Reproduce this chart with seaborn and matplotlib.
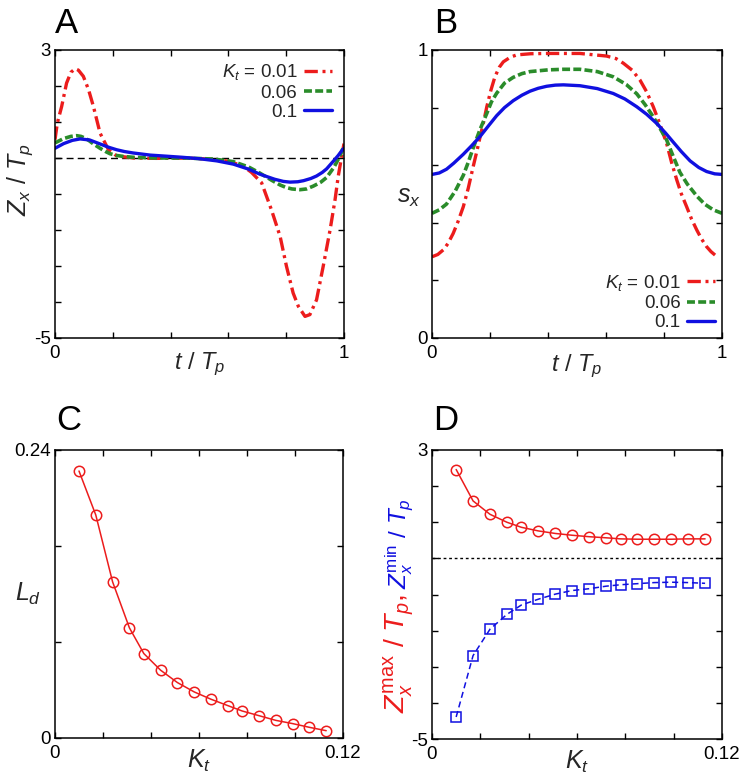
import matplotlib
matplotlib.use("Agg")
import matplotlib.pyplot as plt
import seaborn as sns

# ---------------- Panel A: Z_x / T_p vs t / T_p ----------------
a_labels = [r"$K_t$ = 0.01", "0.06", "0.1"]
a_red_t = [0, 0.008, 0.023, 0.04, 0.055, 0.07, 0.081, 0.098, 0.116, 0.133, 0.156, 0.185,
           0.213, 0.27, 0.35, 0.46, 0.55, 0.60, 0.65, 0.68, 0.715, 0.749, 0.779, 0.801,
           0.824, 0.842, 0.865, 0.882, 0.905, 0.928, 0.952, 0.969, 0.98, 0.992, 1.0]
a_red_v = [0.51, 0.97, 1.43, 2.08, 2.38, 2.48, 2.44, 2.27, 1.90, 1.43, 0.69, 0.23,
           0.06, 0.0, -0.01, 0.0, -0.04, -0.09, -0.22, -0.40, -0.69, -1.44, -2.18, -3.01,
           -3.75, -4.12, -4.40, -4.35, -3.94, -3.01, -1.99, -1.16, -0.51, 0.05, 0.40]
a_green_t = [0, 0.03, 0.055, 0.075, 0.09, 0.105, 0.12, 0.133, 0.156, 0.175, 0.19, 0.213,
             0.24, 0.27, 0.35, 0.45, 0.55, 0.617, 0.67, 0.709, 0.75, 0.779, 0.80, 0.82,
             0.848, 0.87, 0.894, 0.92, 0.94, 0.965, 0.986, 1.0]
a_green_v = [0.42, 0.54, 0.60, 0.62, 0.60, 0.55, 0.47, 0.39, 0.27, 0.18, 0.12, 0.07,
             0.04, 0.02, 0.0, 0.0, -0.03, -0.10, -0.25, -0.42, -0.62, -0.75, -0.82, -0.86,
             -0.88, -0.86, -0.78, -0.67, -0.54, -0.26, 0.05, 0.35]
a_blue_t = [0, 0.03, 0.06, 0.087, 0.12, 0.156, 0.185, 0.213, 0.24, 0.27, 0.33, 0.386,
            0.44, 0.5, 0.56, 0.617, 0.67, 0.709, 0.76, 0.79, 0.813, 0.84, 0.86, 0.885,
            0.905, 0.925, 0.94, 0.963, 0.98, 0.992, 1.0]
a_blue_v = [0.27, 0.40, 0.49, 0.53, 0.50, 0.39, 0.30, 0.23, 0.18, 0.14, 0.08, 0.05,
            0.02, -0.02, -0.08, -0.17, -0.31, -0.45, -0.59, -0.65, -0.67, -0.66, -0.63, -0.57,
            -0.50, -0.40, -0.30, -0.09, 0.07, 0.20, 0.27]

# ---------------- Panel B: s_x vs t / T_p ----------------
b_red_t = [0, 0.02, 0.039, 0.055, 0.073, 0.09, 0.108, 0.125, 0.142, 0.155, 0.166, 0.178,
           0.189, 0.203, 0.217, 0.232, 0.246, 0.27, 0.292, 0.34, 0.395, 0.51, 0.602, 0.635,
           0.66, 0.69, 0.717, 0.74, 0.763, 0.786, 0.809, 0.826, 0.844, 0.86, 0.878, 0.895,
           0.913, 0.93, 0.947, 0.962, 0.976]
b_red_v = [0.282, 0.29, 0.306, 0.328, 0.363, 0.405, 0.456, 0.52, 0.595, 0.65, 0.699, 0.75,
           0.803, 0.86, 0.907, 0.94, 0.959, 0.975, 0.983, 0.987, 0.988, 0.988, 0.979, 0.97,
           0.954, 0.93, 0.896, 0.855, 0.803, 0.742, 0.676, 0.61, 0.549, 0.50, 0.456, 0.413,
           0.375, 0.343, 0.317, 0.30, 0.288]
b_green_t = [0, 0.025, 0.05, 0.08, 0.108, 0.125, 0.142, 0.166, 0.189, 0.205, 0.223, 0.25,
             0.28, 0.31, 0.338, 0.4, 0.453, 0.51, 0.57, 0.625, 0.67, 0.706, 0.735, 0.763,
             0.785, 0.809, 0.832, 0.855, 0.88, 0.913, 0.94, 0.97, 1.0]
b_green_v = [0.433, 0.445, 0.465, 0.51, 0.565, 0.61, 0.66, 0.725, 0.78, 0.82, 0.85, 0.885,
             0.905, 0.918, 0.925, 0.931, 0.933, 0.933, 0.925, 0.907, 0.88, 0.848, 0.81, 0.768,
             0.73, 0.688, 0.63, 0.575, 0.535, 0.493, 0.465, 0.445, 0.433]
b_blue_t = [0, 0.025, 0.05, 0.075, 0.108, 0.137, 0.166, 0.195, 0.223, 0.25, 0.28, 0.31,
            0.338, 0.366, 0.395, 0.425, 0.453, 0.51, 0.57, 0.625, 0.665, 0.706, 0.74, 0.775,
            0.805, 0.832, 0.86, 0.89, 0.92, 0.947, 0.975, 1.0]
b_blue_v = [0.568, 0.573, 0.586, 0.607, 0.638, 0.668, 0.700, 0.737, 0.772, 0.800, 0.824, 0.843,
            0.857, 0.867, 0.874, 0.878, 0.879, 0.876, 0.866, 0.849, 0.830, 0.803, 0.777, 0.745,
            0.712, 0.680, 0.647, 0.615, 0.592, 0.578, 0.570, 0.568]

# ---------------- Panels C, D: vs K_t ----------------
kt = [0.010, 0.017, 0.024, 0.031, 0.037, 0.044, 0.051, 0.058, 0.065, 0.072, 0.078, 0.085,
      0.092, 0.099, 0.106, 0.113]
ld = [0.2225, 0.1858, 0.1301, 0.0918, 0.0704, 0.0565, 0.0462, 0.0384, 0.0323, 0.0270,
      0.0225, 0.0186, 0.0147, 0.0120, 0.0089, 0.0061]
zmax = [2.46, 1.59, 1.22, 1.00, 0.86, 0.76, 0.69, 0.64, 0.60, 0.57, 0.54, 0.53, 0.53, 0.53,
        0.54, 0.54]
zmin = [-4.39, -2.69, -1.96, -1.55, -1.29, -1.13, -0.99, -0.89, -0.84, -0.77, -0.73, -0.70,
        -0.67, -0.66, -0.67, -0.69]

RED = "#ec1c1c"
GREEN = "#2a8c2a"
BLUE = "#1010e0"

sns.set_theme(style="ticks")
plt.rcParams.update({
    "font.family": ["Liberation Sans", "DejaVu Sans"],
    "mathtext.fontset": "custom",
    "mathtext.rm": "Liberation Sans",
    "mathtext.it": "Liberation Sans:italic",
    "mathtext.bf": "Liberation Sans:bold",
    "axes.unicode_minus": False,
    "axes.linewidth": 1.1,
    "axes.edgecolor": "black",
    "xtick.direction": "in",
    "ytick.direction": "in",
    "xtick.top": True,
    "ytick.right": True,
    "xtick.major.size": 4,
    "ytick.major.size": 4,
    "xtick.major.width": 1.0,
    "ytick.major.width": 1.0,
    "xtick.labelsize": 13.5,
    "ytick.labelsize": 13.5,
    "xtick.major.pad": 5,
    "ytick.major.pad": 3,
    "xtick.color": "black",
    "ytick.color": "black",
})

W, H = 750, 781
fig = plt.figure(figsize=(W / 100, H / 100), dpi=100)


def box(l, r, t, b):
    return [l / W, 1 - b / H, (r - l) / W, (b - t) / H]


axA = fig.add_axes(box(55, 344, 50, 338))
axB = fig.add_axes(box(432, 722, 50, 338))
axC = fig.add_axes(box(55, 343, 450, 738))
axD = fig.add_axes(box(432, 722, 450, 739))


def ticks(ax, xt, xl, yt, yl, xlim, ylim):
    ax.set_xlim(*xlim)
    ax.set_ylim(*ylim)
    ax.set_xticks(xt)
    ax.set_xticklabels(xl)
    ax.set_yticks(yt)
    ax.set_yticklabels(yl)
    ax.tick_params(which="both", top=True, right=True, direction="in")


def edge_labels(vals, first, last):
    return [first] + [""] * (len(vals) - 2) + [last]


RED_DD = (0, (4, 1.4, 0.9, 1.4))
GREEN_D = (0, (2.2, 0.9))

# ---- Panel A ----
axA.axhline(0, color="black", lw=1.0, ls=(0, (5, 3)), zorder=1)
sns.lineplot(x=a_red_t, y=a_red_v, ax=axA, color=RED, lw=2.4, linestyle=RED_DD,
             label=a_labels[0], sort=False, estimator=None)
sns.lineplot(x=a_green_t, y=a_green_v, ax=axA, color=GREEN, lw=2.6, linestyle=GREEN_D,
             label=a_labels[1], sort=False, estimator=None)
sns.lineplot(x=a_blue_t, y=a_blue_v, ax=axA, color=BLUE, lw=2.4, linestyle="-",
             label=a_labels[2], sort=False, estimator=None)
xt01 = [0, 0.2, 0.4, 0.6, 0.8, 1.0]
ticks(axA, xt01, edge_labels(xt01, "0", "1"), list(range(-5, 4)),
      edge_labels(range(-5, 4), "-5", "3"), (0, 1), (-5, 3))
axA.legend(loc="upper right", frameon=False, markerfirst=False, fontsize=13.5,
           handlelength=1.5, handletextpad=0.35, labelspacing=0.12, borderpad=0.2,
           borderaxespad=0.45)
axA.set_xlabel(r"$t\ /\ T_p$", fontsize=17)
axA.xaxis.set_label_coords(0.5, -0.045)
axA.set_ylabel(r"$Z_x\ /\ T_p$", fontsize=18)
axA.yaxis.set_label_coords(-0.07, 0.55)

# ---- Panel B ----
sns.lineplot(x=b_red_t, y=b_red_v, ax=axB, color=RED, lw=2.4, linestyle=RED_DD,
             label=a_labels[0], sort=False, estimator=None)
sns.lineplot(x=b_green_t, y=b_green_v, ax=axB, color=GREEN, lw=2.6, linestyle=GREEN_D,
             label=a_labels[1], sort=False, estimator=None)
sns.lineplot(x=b_blue_t, y=b_blue_v, ax=axB, color=BLUE, lw=2.4, linestyle="-",
             label=a_labels[2], sort=False, estimator=None)
ticks(axB, xt01, edge_labels(xt01, "0", "1"), xt01, edge_labels(xt01, "0", "1"),
      (0, 1), (0, 1))
axB.legend(loc="lower right", frameon=False, markerfirst=False, fontsize=13.5,
           handlelength=1.5, handletextpad=0.35, labelspacing=0.12, borderpad=0.2,
           borderaxespad=0.15)
axB.set_xlabel(r"$t\ /\ T_p$", fontsize=17)
axB.xaxis.set_label_coords(0.5, -0.05)
axB.set_ylabel(r"$s_x$", fontsize=18, rotation=0, ha="center", va="center")
axB.yaxis.set_label_coords(-0.08, 0.49)

# ---- Panel C ----
sns.lineplot(x=kt, y=ld, ax=axC, color=RED, lw=1.1, marker="o", markersize=7.5,
             markerfacecolor="none", markeredgecolor=RED, markeredgewidth=1.1,
             estimator=None)
xtK = [0, 0.02, 0.04, 0.06, 0.08, 0.10, 0.12]
ytC = [0, 0.08, 0.16, 0.24]
ticks(axC, xtK, edge_labels(xtK, "0", "0.12"), ytC, edge_labels(ytC, "0", "0.24"),
      (0, 0.12), (0, 0.24))
axC.set_xlabel(r"$K_t$", fontsize=18)
axC.xaxis.set_label_coords(0.5, -0.035)
axC.set_ylabel(r"$L_d$", fontsize=18, rotation=0, ha="center", va="center")
axC.yaxis.set_label_coords(-0.095, 0.5)

# ---- Panel D ----
axD.axhline(0, color="black", lw=1.0, ls=(0, (2, 2)), zorder=1)
sns.lineplot(x=kt, y=zmax, ax=axD, color=RED, lw=1.1, marker="o", markersize=7.5,
             markerfacecolor="none", markeredgecolor=RED, markeredgewidth=1.1,
             estimator=None)
sns.lineplot(x=kt, y=zmin, ax=axD, color=BLUE, lw=1.1, linestyle=(0, (4, 2.5)),
             marker="s", markersize=7.5, markerfacecolor="none", markeredgecolor=BLUE,
             markeredgewidth=1.1, estimator=None)
ticks(axD, xtK, edge_labels(xtK, "0", "0.12"), list(range(-5, 4)),
      edge_labels(range(-5, 4), "-5", "3"), (0, 0.12), (-5, 3))
axD.set_xlabel(r"$K_t$", fontsize=18)
axD.xaxis.set_label_coords(0.5, -0.035)
axD.set_ylabel("")

for ax in (axA, axB, axC, axD):
    for s in ax.spines.values():
        s.set_visible(True)
        s.set_color("black")
        s.set_linewidth(1.1)
    leg = ax.get_legend()
    if ax in (axC, axD) and leg is not None:
        leg.remove()

# two-coloured y label for panel D
tx = 399 / W
t_red = fig.text(tx, 1 - 713 / H, r"$Z_x^{\mathrm{max}}\ /\ T_p$,", color=RED,
                 rotation=90, ha="center", va="bottom", fontsize=20.5)
fig.canvas.draw()
bb = t_red.get_window_extent()
fig.text(tx, (bb.y1 + 5) / H, r"$Z_x^{\mathrm{min}}\ /\ T_p$", color=BLUE,
         rotation=90, ha="center", va="bottom", fontsize=17.5)

# panel letters
for letter, x, y in (("A", 55, 33), ("B", 434, 33), ("C", 56, 430), ("D", 433, 430)):
    fig.text(x / W, 1 - y / H, letter, fontsize=25, ha="left", va="baseline",
             color="black")

fig.savefig("out.png", dpi=100)
